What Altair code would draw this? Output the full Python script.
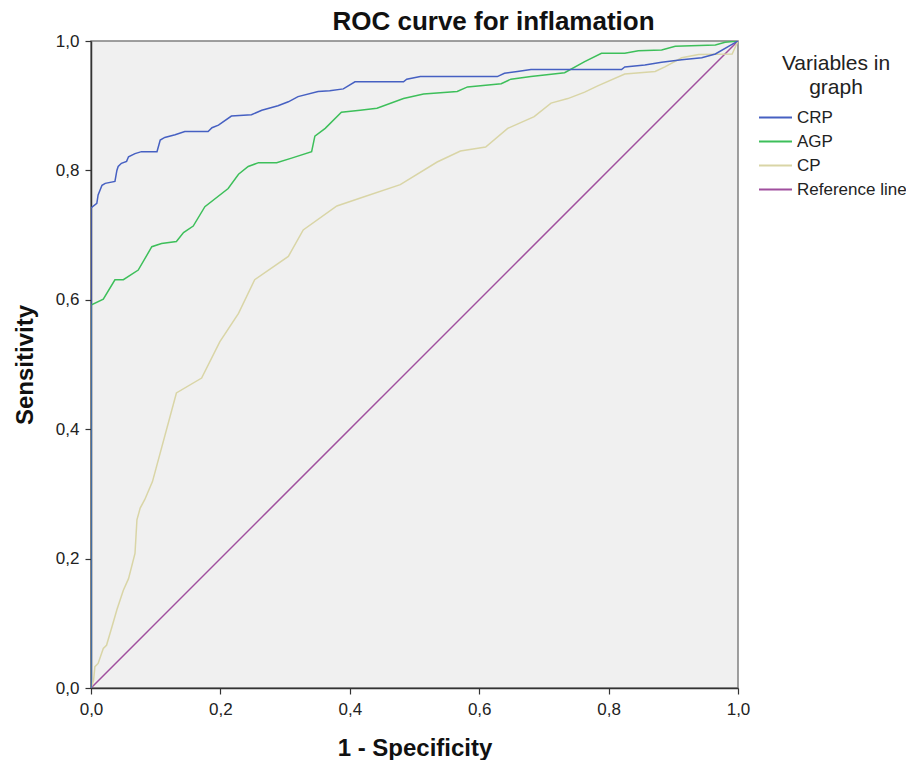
import altair as alt
import pandas as pd

series_names = ["CRP", "AGP", "CP", "Reference line"]
series_colors = ["#4660c2", "#3dbf5a", "#d9d5a6", "#a04f9e"]

crp_x = [0, 0, 0.009, 0.011, 0.017, 0.022, 0.037, 0.040, 0.042, 0.047, 0.055, 0.058, 0.068, 0.078, 0.102, 0.107,
         0.114, 0.130, 0.145, 0.181, 0.187, 0.197, 0.217, 0.248, 0.264, 0.289, 0.305, 0.320, 0.351, 0.369, 0.390,
         0.408, 0.483, 0.488, 0.509, 0.628, 0.639, 0.659, 0.680, 0.820, 0.825, 0.856, 0.882, 0.913, 0.944, 0.965, 1.0]
crp_y = [0, 0.742, 0.749, 0.762, 0.777, 0.780, 0.783, 0.800, 0.806, 0.811, 0.814, 0.821, 0.826, 0.829, 0.829, 0.847,
         0.851, 0.855, 0.860, 0.860, 0.866, 0.870, 0.884, 0.886, 0.893, 0.900, 0.906, 0.914, 0.922, 0.923, 0.926,
         0.937, 0.937, 0.941, 0.945, 0.945, 0.950, 0.953, 0.956, 0.956, 0.960, 0.963, 0.967, 0.971, 0.974, 0.980, 1.0]

agp_x = [0, 0, 0.019, 0.037, 0.050, 0.073, 0.094, 0.109, 0.132, 0.143, 0.158, 0.176, 0.212, 0.228, 0.243, 0.259,
         0.287, 0.310, 0.341, 0.346, 0.362, 0.387, 0.416, 0.442, 0.483, 0.514, 0.566, 0.582, 0.634, 0.649, 0.680,
         0.732, 0.763, 0.789, 0.825, 0.846, 0.882, 0.903, 0.965, 0.980, 1.0]
agp_y = [0, 0.592, 0.601, 0.631, 0.631, 0.646, 0.682, 0.687, 0.690, 0.704, 0.714, 0.744, 0.772, 0.794, 0.806, 0.812,
         0.812, 0.819, 0.829, 0.853, 0.865, 0.890, 0.893, 0.896, 0.911, 0.918, 0.922, 0.929, 0.934, 0.941, 0.945,
         0.951, 0.968, 0.981, 0.981, 0.985, 0.986, 0.992, 0.994, 0.998, 1.0]

cp_x = [0, 0.004, 0.006, 0.011, 0.019, 0.024, 0.034, 0.040, 0.050, 0.058, 0.068, 0.071, 0.076, 0.083, 0.095, 0.132,
        0.171, 0.199, 0.228, 0.253, 0.305, 0.328, 0.380, 0.421, 0.478, 0.535, 0.571, 0.610, 0.644, 0.685, 0.711,
        0.737, 0.763, 0.784, 0.825, 0.872, 0.887, 0.913, 0.939, 0.991, 1.0]
cp_y = [0, 0.012, 0.033, 0.038, 0.061, 0.066, 0.100, 0.121, 0.151, 0.169, 0.208, 0.260, 0.278, 0.291, 0.319, 0.456,
        0.479, 0.535, 0.579, 0.631, 0.667, 0.708, 0.745, 0.759, 0.778, 0.813, 0.830, 0.836, 0.865, 0.883, 0.904,
        0.911, 0.921, 0.931, 0.949, 0.953, 0.960, 0.974, 0.979, 0.980, 1.0]

ref_x = [0, 1]
ref_y = [0, 1]

tick_values = [0, 0.2, 0.4, 0.6, 0.8, 1.0]

rows = []
for name, xs, ys in [("Reference line", ref_x, ref_y), ("CP", cp_x, cp_y), ("AGP", agp_x, agp_y), ("CRP", crp_x, crp_y)]:
    for i, (a, b) in enumerate(zip(xs, ys)):
        rows.append({"series": name, "fpr": a, "tpr": b, "i": i})
df = pd.DataFrame(rows)

label_expr = "replace(format(datum.value, '.1f'), '.', ',')"

chart = alt.Chart(df).mark_line(strokeWidth=1.5, clip=True).encode(
    x=alt.X("fpr:Q", scale=alt.Scale(domain=[0, 1], nice=False, zero=False),
            axis=alt.Axis(title="1 - Specificity", values=tick_values, labelExpr=label_expr, grid=False,
                          labelFlush=False, titlePadding=19, labelPadding=7)),
    y=alt.Y("tpr:Q", scale=alt.Scale(domain=[0, 1], nice=False, zero=False),
            axis=alt.Axis(title="Sensitivity", values=tick_values, labelExpr=label_expr, grid=False,
                          labelFlush=False, titlePadding=18, labelPadding=6)),
    color=alt.Color("series:N", scale=alt.Scale(domain=series_names, range=series_colors),
                    legend=alt.Legend(title=["Variables in", "graph"], orient="none", legendX=675, legendY=12,
                                      symbolType="M-2,0H2", symbolSize=272, symbolStrokeWidth=2,
                                      titleAlign="center", titleAnchor="middle", titleFontSize=21,
                                      titleFontWeight="normal", titleLineHeight=24, titlePadding=10,
                                      titleFont="Liberation Sans", titleColor="#222",
                                      labelFont="Liberation Sans", labelFontSize=17, labelColor="#222",
                                      labelOffset=12, rowPadding=6)),
    detail="series:N",
    order="i:Q",
).properties(
    width=647, height=647,
    title=alt.TitleParams("ROC curve for inflamation", font="Liberation Sans", fontSize=26, fontWeight="bold",
                          color="#111", anchor="middle", dx=79, offset=-3),
    autosize=alt.AutoSizeParams(type="none"),
    padding={"left": 83, "top": 33, "right": 168, "bottom": 72},
).configure_view(
    fill="#f0f0f0", stroke="#808080", strokeWidth=1.5
).configure_axis(
    labelFont="Liberation Sans", labelFontSize=17, labelColor="#222",
    titleFont="Liberation Sans", titleFontSize=24, titleFontWeight="bold", titleColor="#111",
    domainColor="#333", domainWidth=1.5, tickColor="#333", tickSize=6, tickWidth=1.2,
)

chart.save("out.html", embed_options={"renderer": "svg", "actions": False})
